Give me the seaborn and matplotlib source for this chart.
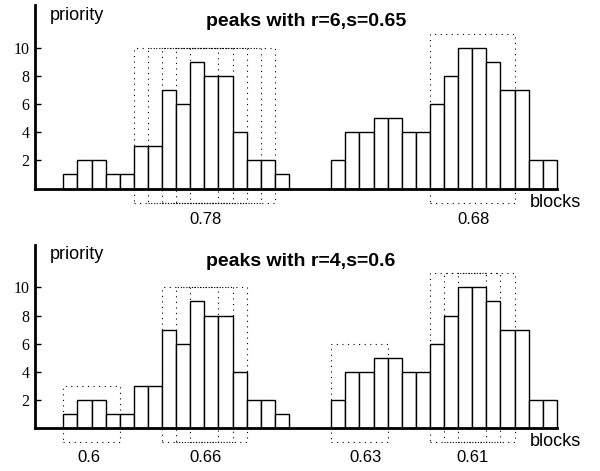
import numpy as np
import pandas as pd
import matplotlib
matplotlib.use("Agg")
import matplotlib.pyplot as plt
from matplotlib.patches import Rectangle
import seaborn as sns

# bar heights (priority per block), two clusters of blocks
left_heights = [1, 2, 2, 1, 1, 3, 3, 7, 6, 9, 8, 8, 4, 2, 2, 1]
right_heights = [2, 4, 4, 5, 5, 4, 4, 6, 8, 10, 10, 9, 7, 7, 2, 2]
left_start = 0
right_start = 19

titles = ["peaks with r=6,s=0.65", "peaks with r=4,s=0.6"]

# dotted peak boxes: (first block, last block edge, top), bottom is -1
top_boxes = [(5, 15, 10), (6, 14, 10), (7, 13, 10), (8, 12, 10), (9, 11, 10),
             (26, 32, 11)]
bottom_boxes = [(0, 4, 3), (7, 13, 10), (8, 12, 10), (9, 11, 10),
                (19, 23, 6), (26, 32, 11), (27, 31, 11), (28, 30, 11)]
box_bottom = -1

top_labels = ["0.78", "0.68"]
top_label_x = [10.1, 29.1]
bottom_labels = ["0.6", "0.66", "0.63", "0.61"]
bottom_label_x = [1.8, 10.1, 21.4, 29.0]

yticks = [2, 4, 6, 8, 10]

sns.set_style("white")
plt.rcParams['font.family'] = ['Liberation Sans', 'DejaVu Sans']
plt.rcParams['text.color'] = 'black'

heights = left_heights + right_heights
positions = np.concatenate([left_start + np.arange(len(left_heights)),
                            right_start + np.arange(len(right_heights))]) + 0.5
df = pd.DataFrame({'block': positions, 'priority': heights})

fig = plt.figure(figsize=(6, 4.71), dpi=100)
ax_top = fig.add_axes([0, 236 / 471, 1, 235 / 471])
ax_bot = fig.add_axes([0, 0, 1, 236 / 471])

panels = [
    (ax_top, titles[0], top_boxes, top_labels, top_label_x, (-3.30, 13.39), -2.55),
    (ax_bot, titles[1], bottom_boxes, bottom_labels, bottom_label_x, (-3.04, 13.72), -2.4),
]

for ax, title, boxes, labels, label_x, ylim, label_y in panels:
    sns.barplot(data=df, x='block', y='priority', native_scale=True, width=1,
                color='white', edgecolor='black', linewidth=1.0, saturation=1,
                errorbar=None, ax=ax, zorder=3)

    for x0, x1, top in boxes:
        ax.add_patch(Rectangle((x0, box_bottom), x1 - x0, top - box_bottom,
                               fill=False, edgecolor='black', linewidth=0.8,
                               linestyle=(0, (1, 4)), zorder=1))

    for lab, lx in zip(labels, label_x):
        ax.text(lx, label_y, lab, ha='center', va='baseline', fontsize=12,
                color='black')

    ax.text(-0.95, 12.0, 'priority', ha='left', va='baseline', fontsize=13,
            color='black')
    ax.text(10.1, 11.55, title, ha='left', va='baseline', fontsize=14,
            fontweight='bold', color='black')
    ax.text(33.1, -1.3, 'blocks', ha='left', va='baseline', fontsize=13,
            color='black')

    ax.set_xlim(-4.49, 38.06)
    ax.set_ylim(*ylim)
    ax.set_xlabel('')
    ax.set_ylabel('')
    ax.set_facecolor('none')

    for side in ['top', 'right']:
        ax.spines[side].set_visible(False)
    ax.spines['left'].set_position(('data', -2))
    ax.spines['left'].set_bounds(0, 13)
    ax.spines['bottom'].set_position(('data', 0))
    ax.spines['bottom'].set_bounds(-2, 35)
    for side in ['left', 'bottom']:
        ax.spines[side].set_linewidth(2.0)
        ax.spines[side].set_color('black')
        ax.spines[side].set_zorder(4)

    ax.set_xticks([])
    ax.set_yticks(yticks)
    ax.set_yticklabels([str(t) for t in yticks], family='Liberation Serif',
                       fontsize=11.5)
    ax.tick_params(axis='y', direction='in', length=4, width=1, pad=4,
                   left=True, colors='black')

fig.savefig('out.png', dpi=100)
